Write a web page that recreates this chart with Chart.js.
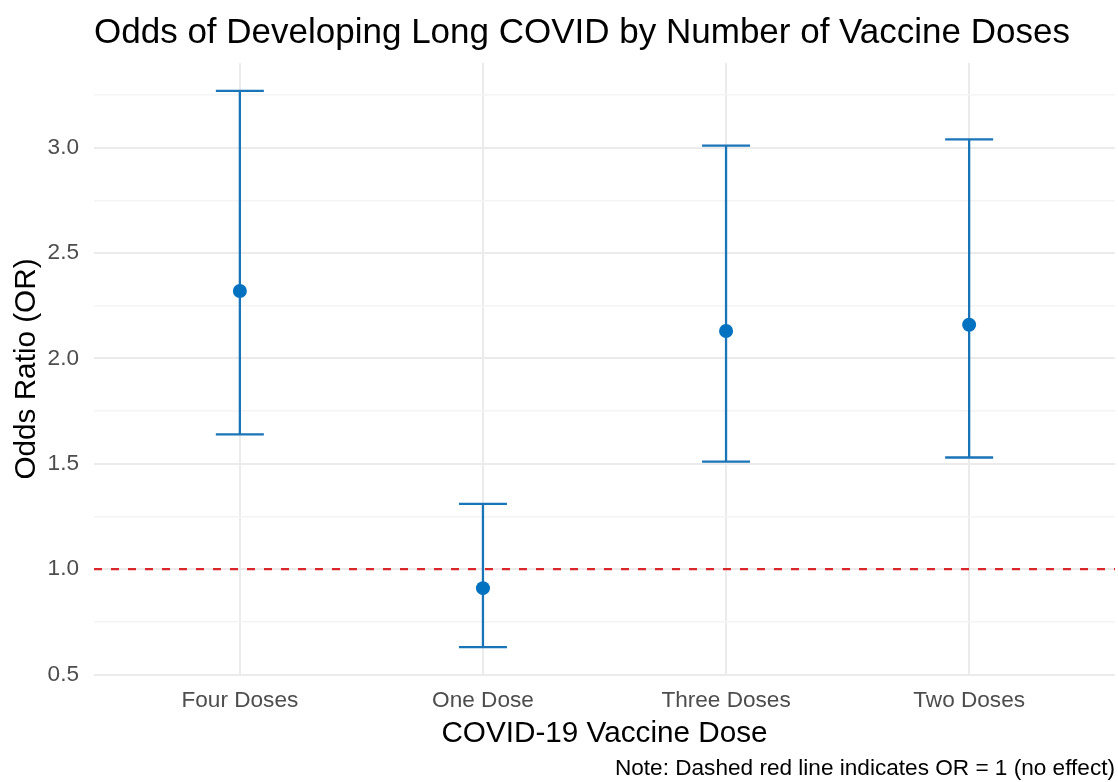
<!DOCTYPE html>
<html>
<head>
<meta charset="utf-8">
<title>Odds of Developing Long COVID by Number of Vaccine Doses</title>
<script src="https://cdn.jsdelivr.net/npm/chart.js@4.4.1/dist/chart.umd.min.js"></script>
<style>
  html, body { margin: 0; padding: 0; background: #ffffff; }
  #wrap { width: 1118px; height: 782px; position: relative; }
</style>
</head>
<body>
<div id="wrap"><canvas id="chart" width="1118" height="782"></canvas></div>
<script>
// Vaccine dose groups, odds ratios and 95% confidence limits
const doseLabels = ['Four Doses', 'One Dose', 'Three Doses', 'Two Doses'];
const oddsRatio  = [2.32, 0.91, 2.13, 2.16];
const ciLower    = [1.64, 0.63, 1.51, 1.53];
const ciUpper    = [3.27, 1.31, 3.01, 3.04];

// Reference line: OR = 1 means no effect
const noEffectOR = 1;

// Y axis ticks
const yMajorTicks = [0.5, 1.0, 1.5, 2.0, 2.5, 3.0];
const yMinorStep = 0.25;

// Axis limits (discrete axis padded by 0.6 of a category on each side)
const xMin = -0.6, xMax = doseLabels.length - 1 + 0.6;
const yMin = 0.498, yMax = 3.402;

const FONT = "'Liberation Sans', Arial, Helvetica, sans-serif";
const BLUE_LINE = '#1a74b8';
const BLUE_POINT = '#0072bf';
const RED = '#d9262b';
const GRID_MAJOR = '#ebebeb';
const GRID_MINOR = '#f4f4f4';

// Error bar segments: low -> high per group, separated by gaps
const errorBarData = [];
doseLabels.forEach((_, i) => {
  errorBarData.push({ x: i, y: ciLower[i] });
  errorBarData.push({ x: i, y: ciUpper[i] });
  errorBarData.push({ x: i + 0.5, y: null });
});

const pointData = oddsRatio.map((v, i) => ({ x: i, y: v }));
const refLineData = [{ x: xMin, y: noEffectOR }, { x: xMax, y: noEffectOR }];

const isMajor = v => yMajorTicks.some(t => Math.abs(t - v) < 1e-6);

new Chart(document.getElementById('chart'), {
  type: 'scatter',
  data: {
    datasets: [
      {
        label: 'OR = 1',
        type: 'line',
        data: refLineData,
        borderColor: RED,
        borderWidth: 2.2,
        borderDash: [8, 9],
        pointRadius: 0,
        showLine: true,
        order: 3
      },
      {
        label: '95% CI',
        type: 'line',
        data: errorBarData,
        borderColor: BLUE_LINE,
        borderWidth: 2.3,
        spanGaps: false,
        showLine: true,
        pointStyle: 'line',
        pointRadius: ctx => (ctx.raw && ctx.raw.y !== null ? 24 : 0),
        pointBorderColor: BLUE_LINE,
        pointBorderWidth: 2.3,
        pointBackgroundColor: BLUE_LINE,
        order: 2
      },
      {
        label: 'Odds Ratio',
        data: pointData,
        backgroundColor: BLUE_POINT,
        borderColor: BLUE_POINT,
        borderWidth: 0,
        pointRadius: 7,
        order: 1
      }
    ]
  },
  options: {
    responsive: false,
    animation: false,
    layout: { autoPadding: false, padding: { left: 0, right: 3, top: 0, bottom: 0 } },
    plugins: {
      legend: { display: false },
      tooltip: { enabled: false },
      title: {
        display: true,
        text: 'Odds of Developing Long COVID by Number of Vaccine Doses',
        align: 'start',
        fullSize: false,
        color: '#000000',
        font: { family: FONT, size: 35, weight: 'normal', lineHeight: 1.2 },
        padding: { top: 12, bottom: 9 }
      },
      subtitle: {
        display: true,
        position: 'bottom',
        text: 'Note: Dashed red line indicates OR = 1 (no effect)',
        align: 'end',
        fullSize: false,
        color: '#000000',
        font: { family: FONT, size: 22.6, weight: 'normal', lineHeight: 1.2 },
        padding: { top: 2.9, bottom: 0 }
      }
    },
    scales: {
      x: {
        type: 'linear',
        min: xMin,
        max: xMax,
        afterBuildTicks: scale => {
          scale.ticks = doseLabels.map((_, i) => ({ value: i }));
        },
        afterFit: scale => {
          scale.height = 77;
          scale.paddingLeft = 0;
          scale.paddingRight = 0;
        },
        ticks: {
          autoSkip: false,
          maxRotation: 0,
          padding: 12,
          color: '#4d4d4d',
          font: { family: FONT, size: 22.6 },
          callback: v => doseLabels[v]
        },
        grid: { color: GRID_MAJOR, lineWidth: 2, drawTicks: false },
        border: { display: false },
        title: {
          display: true,
          text: 'COVID-19 Vaccine Dose',
          color: '#000000',
          font: { family: FONT, size: 29.7, lineHeight: 1.2 },
          padding: { top: 0, bottom: 0 }
        }
      },
      y: {
        min: yMin,
        max: yMax,
        afterBuildTicks: scale => {
          const ticks = [];
          for (let v = yMajorTicks[0]; v <= yMax + 1e-9; v += yMinorStep) {
            if (v >= yMin - 1e-9) ticks.push({ value: +v.toFixed(2) });
          }
          scale.ticks = ticks;
        },
        afterFit: scale => {
          scale.width = 94;
          scale.paddingTop = 0;
          scale.paddingBottom = 0;
        },
        ticks: {
          padding: 15,
          color: '#4d4d4d',
          font: { family: FONT, size: 22.6 },
          callback: v => (isMajor(v) ? v.toFixed(1) : '')
        },
        grid: {
          drawTicks: false,
          color: ctx => (ctx.tick && isMajor(ctx.tick.value) ? GRID_MAJOR : GRID_MINOR),
          lineWidth: ctx => (ctx.tick && isMajor(ctx.tick.value) ? 2 : 1.5)
        },
        border: { display: false },
        title: {
          display: true,
          text: 'Odds Ratio (OR)',
          color: '#000000',
          font: { family: FONT, size: 29.7, lineHeight: 1.2 },
          padding: { top: 9, bottom: 0 }
        }
      }
    }
  }
});
</script>
</body>
</html>
